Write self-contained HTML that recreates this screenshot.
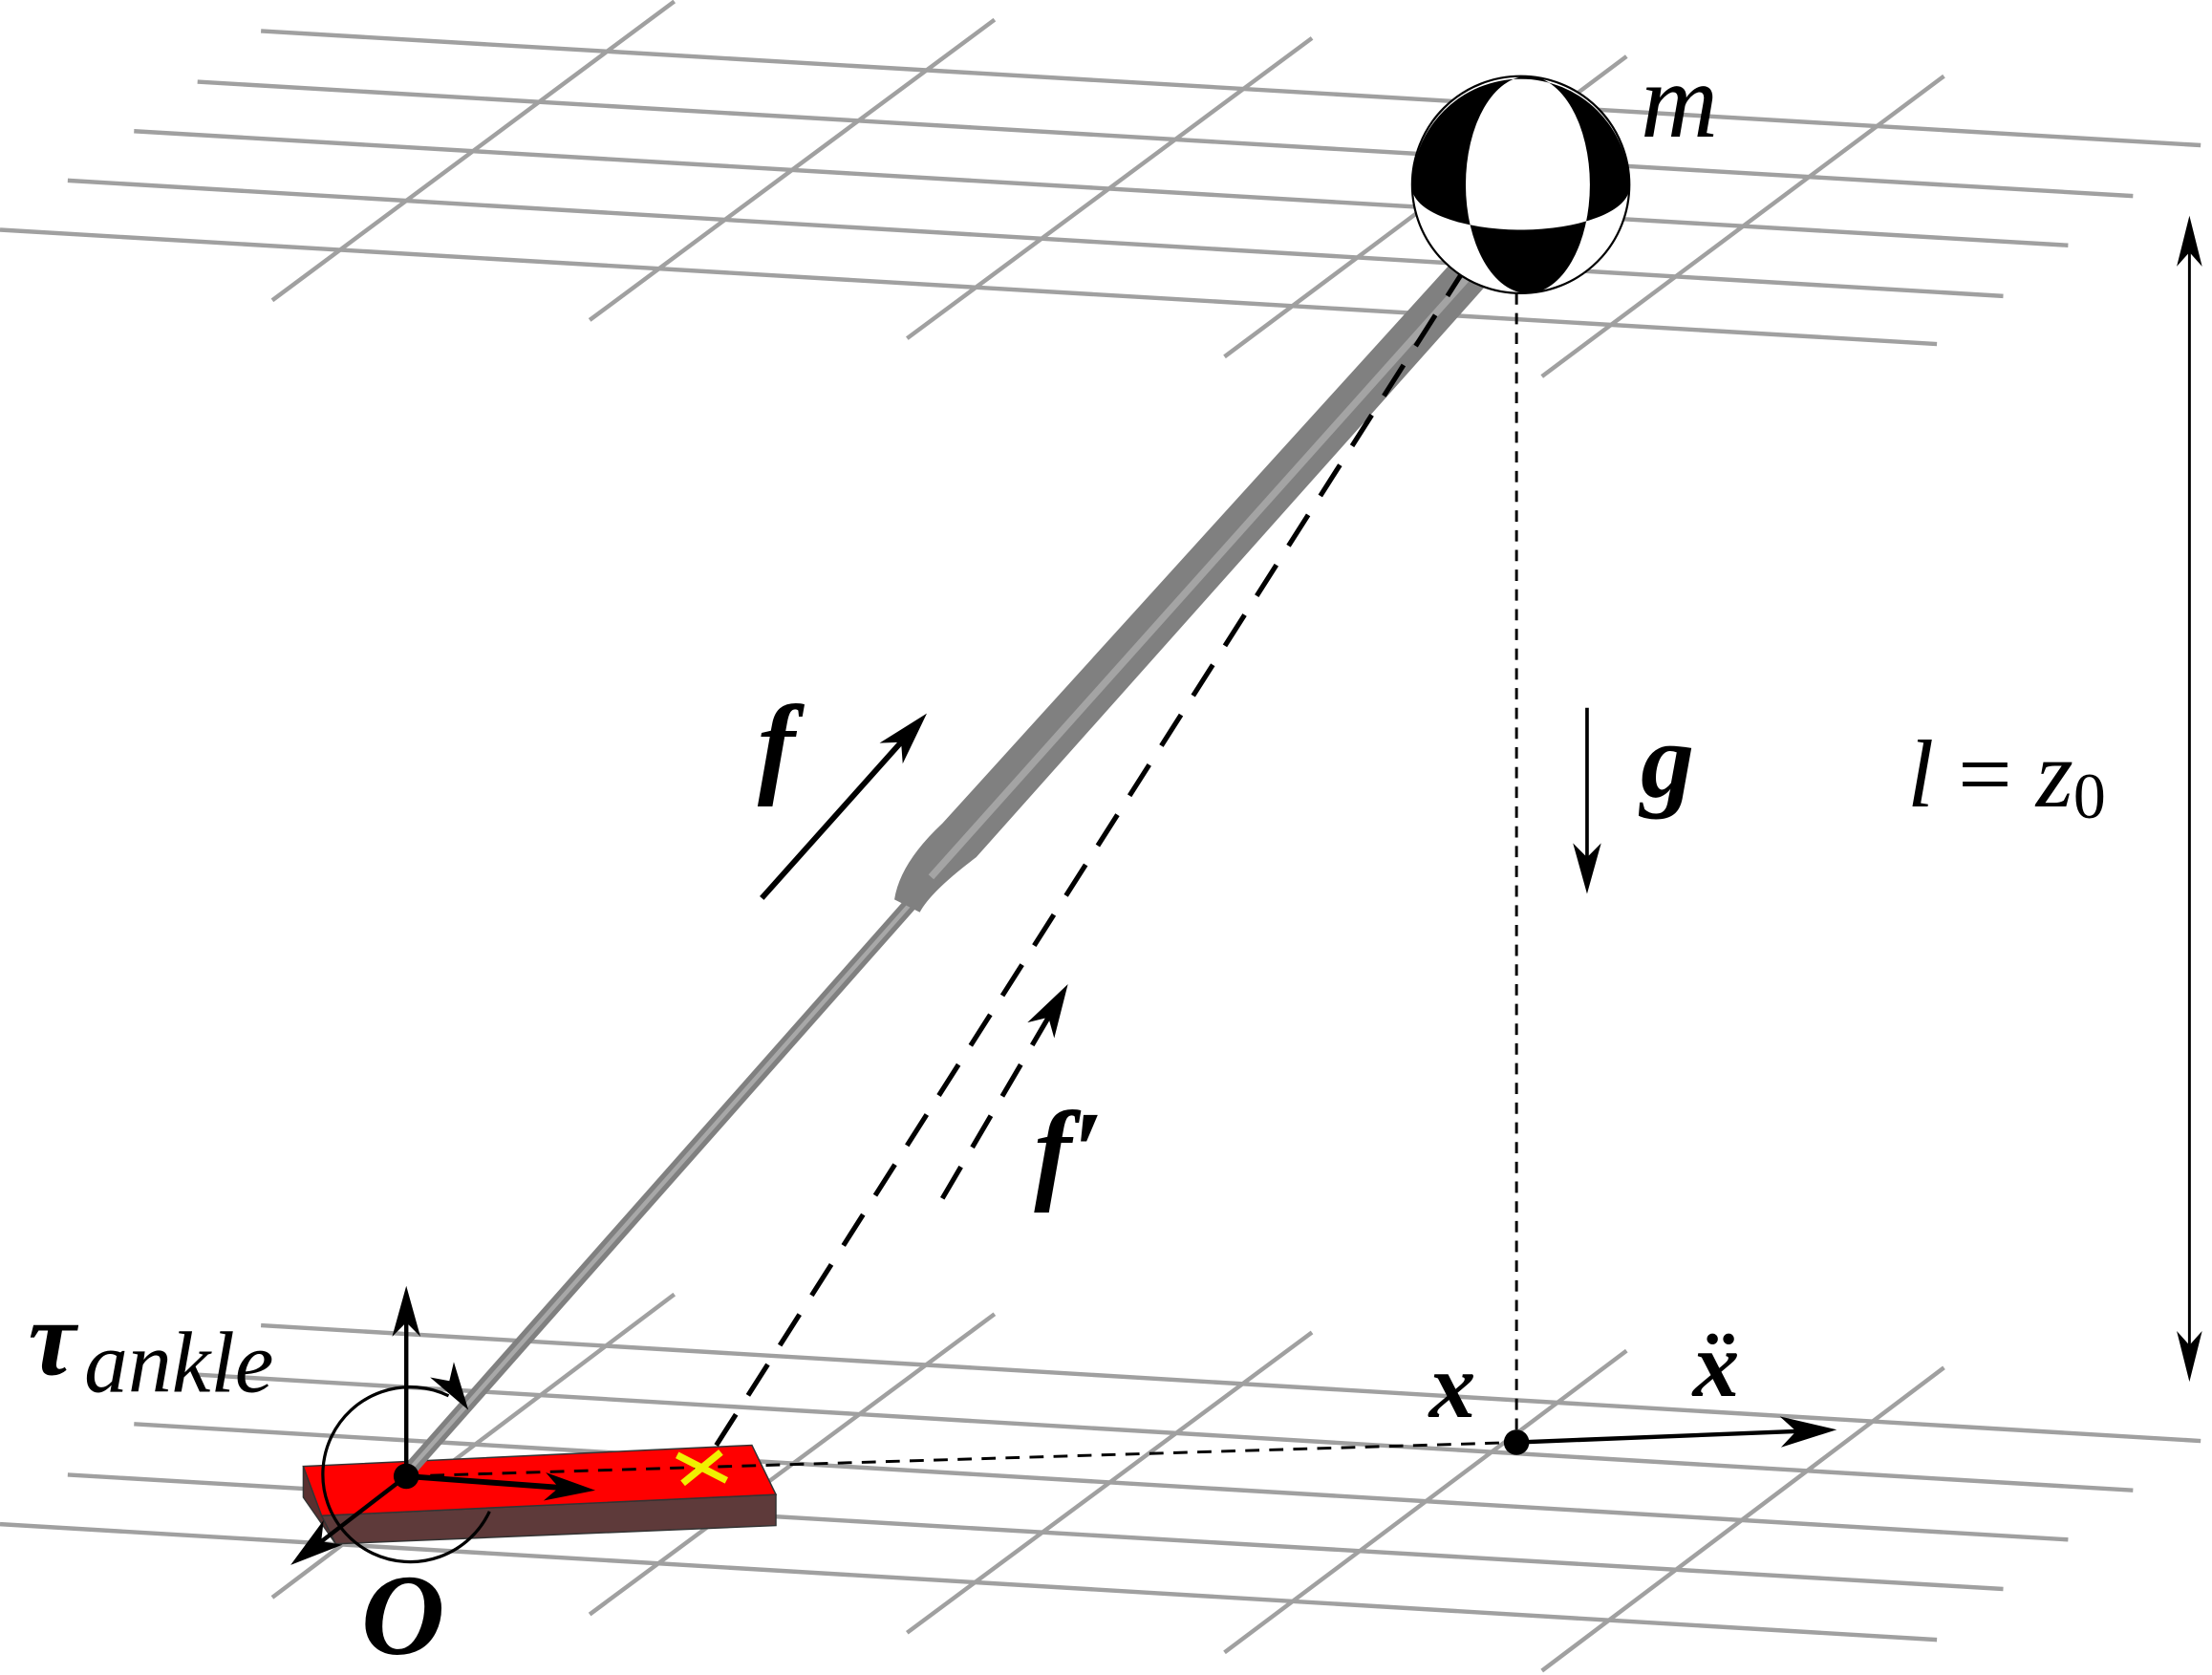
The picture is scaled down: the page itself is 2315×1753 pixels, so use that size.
<!DOCTYPE html>
<html><head><meta charset="utf-8"><style>
html,body{margin:0;padding:0;background:#fff;overflow:hidden}
svg{display:block}
text{font-family:"Liberation Serif","DejaVu Serif",serif;fill:#000}
</style></head><body>
<svg id="fig" width="2315" height="1753" viewBox="0 0 1568 1188" preserveAspectRatio="none">
<defs>
<clipPath id="circ"><circle cx="1078" cy="131" r="77"/></clipPath>
<clipPath id="upper"><path d="M1001,133 A77 77 0 0 1 1155,133 A77 30 0 0 1 1001,133 Z"/></clipPath>
</defs>

<g stroke="#a0a0a0" stroke-width="3">
<line x1="185" y1="22" x2="1560" y2="103"/>
<line x1="140" y1="58" x2="1512" y2="139"/>
<line x1="95" y1="93" x2="1466" y2="174"/>
<line x1="48" y1="128" x2="1420" y2="210"/>
<line x1="0" y1="163" x2="1373" y2="244"/>
<line x1="193" y1="213" x2="478" y2="1"/>
<line x1="418" y1="227" x2="705" y2="14"/>
<line x1="643" y1="240" x2="930" y2="27"/>
<line x1="868" y1="253" x2="1153" y2="40"/>
<line x1="1093" y1="267" x2="1378" y2="54"/>
</g>
<g stroke="#a0a0a0" stroke-width="3">
<line x1="185" y1="940" x2="1560" y2="1022"/>
<line x1="140" y1="975" x2="1512" y2="1057"/>
<line x1="95" y1="1010" x2="1466" y2="1092"/>
<line x1="48" y1="1046" x2="1420" y2="1127"/>
<line x1="0" y1="1081" x2="1373" y2="1163"/>
<line x1="193" y1="1133" x2="478" y2="918"/>
<line x1="418" y1="1145" x2="705" y2="932"/>
<line x1="643" y1="1158" x2="930" y2="945"/>
<line x1="868" y1="1172" x2="1153" y2="958"/>
<line x1="1093" y1="1185" x2="1378" y2="970"/>
</g>

<g>
<polygon points="215,1040 228,1075 238,1095 215,1062" fill="#5a3030" stroke="#333" stroke-width="1"/>
<polygon points="228,1075 550,1060 550,1082 238,1095" fill="#5e3a3a" stroke="#333" stroke-width="1"/>
<polygon points="215,1040 533,1025 550,1060 228,1075" fill="#ff0000" stroke="#333" stroke-width="1"/>
</g>

<g>
<line x1="288" y1="1045" x2="648" y2="638" stroke="#808080" stroke-width="10"/>
<line x1="288" y1="1045" x2="648" y2="638" stroke="#a8a8a8" stroke-width="3"/>
<path d="M634,638 Q638,612 668,584 L1030,185 L1052,204 L692,608 Q660,632 652,647 Z" fill="#808080"/>
<line x1="660" y1="622" x2="1042" y2="195" stroke="#a4a4a4" stroke-width="5"/>
</g>

<g stroke="#000" fill="none">
<line x1="1075" y1="208" x2="1075" y2="1023" stroke-width="2" stroke-dasharray="8,6"/>
<line x1="288" y1="1047" x2="1075" y2="1023" stroke-width="2" stroke-dasharray="10,7"/>
<line x1="1040" y1="188" x2="497" y2="1042" stroke-width="3.5" stroke-dasharray="26,16"/>
</g>

<g>
<circle cx="1078" cy="131" r="77" fill="#fff"/>
<ellipse cx="1083" cy="131" rx="44" ry="77" fill="#000" clip-path="url(#circ)"/>
<rect x="990" y="40" width="180" height="180" fill="#000" clip-path="url(#upper)"/>
<ellipse cx="1083" cy="131" rx="44" ry="77" fill="#fff" clip-path="url(#upper)"/>
<circle cx="1078" cy="131" r="77" fill="none" stroke="#000" stroke-width="1.5"/>
</g>

<g id="arrows">
<path d="M347,1072 A62 62 0 1 1 318,990" stroke="#000" stroke-width="2.2" fill="none"/>
</g>

<circle cx="288" cy="1047" r="9" fill="#000"/>
<circle cx="1075" cy="1023" r="9" fill="#000"/>
<g stroke="#f0f000" stroke-width="5">
<line x1="480" y1="1032" x2="515" y2="1050"/>
<line x1="484" y1="1052" x2="511" y2="1030"/>
</g>

<text x="1163" y="97" font-size="76" font-style="italic">m</text>
<text x="537" y="555" font-size="80" font-style="italic" font-weight="bold">f</text>
<text x="733" y="843" font-size="80" font-style="italic" font-weight="bold">f′</text>
<text x="1163" y="565" font-size="76" font-style="italic" font-weight="bold">g</text>
<text x="1352" y="572" font-size="68"><tspan font-style="italic">l</tspan> = <tspan font-style="italic">z</tspan><tspan font-size="46" dy="8">0</tspan></text>
<text x="1013" y="1005" font-size="66" font-style="italic" font-weight="bold">x</text>
<text x="1200" y="990" font-size="66" font-style="italic" font-weight="bold">ẍ</text>
<text x="256" y="1173" font-size="82" font-style="italic" font-weight="bold">O</text>
<text x="20" y="975" font-size="76" font-weight="bold" font-style="italic">τ<tspan font-weight="normal" font-size="62" dx="6" dy="12">ankle</tspan></text>
</svg>
<script>
var NS='http://www.w3.org/2000/svg';
var g=document.getElementById('arrows');
function arrow(name,x1,y1,x2,y2,w,L,H,dash,both){
  var l=document.createElementNS(NS,'line');
  
  
  var dx=x2-x1,dy=y2-y1,d=Math.hypot(dx,dy),ux=dx/d,uy=dy/d;
  var sx=both?x1+ux*L*0.5:x1, sy=both?y1+uy*L*0.5:y1;
  l.setAttribute('x1',sx);l.setAttribute('y1',sy);
  l.setAttribute('x2',x2-ux*L*0.5);l.setAttribute('y2',y2-uy*L*0.5);
  l.setAttribute('stroke','#000');l.setAttribute('stroke-width',w);
  if(dash)l.setAttribute('stroke-dasharray',dash);
  g.appendChild(l);
  head(name+'-head',x2,y2,ux,uy,L,H);
  if(both)head(name+'-tail',x1,y1,-ux,-uy,L,H);
}
function head(name,x,y,ux,uy,L,H){
  var px=-uy,py=ux;
  var p=document.createElementNS(NS,'polygon');
  
  
  var bx=x-ux*L,by=y-uy*L,ix=x-ux*L*0.72,iy=y-uy*L*0.72;
  p.setAttribute('points',[x,y,bx+px*H,by+py*H,ix,iy,bx-px*H,by-py*H].join(','));
  p.setAttribute('fill','#000');
  g.appendChild(p);
}
arrow('force-f-arrow',540,637,657,506,4,38,11);
arrow('force-f-prime-arrow',668,850,757,698,3.5,38,11,'26,16');
arrow('gravity-arrow',1125,502,1125,634,2.5,36,10);
arrow('height-arrow',1552,153,1552,980,2,36,9,null,true);
arrow('acceleration-arrow',1075,1023,1302,1014,3,40,11);
arrow('z-axis-arrow',288,1047,288,912,3,36,10);
arrow('x-axis-arrow',288,1047,422,1057,4,36,10);
arrow('y-axis-arrow',288,1047,206,1110,3,38,11);
head('ankle-torque-arc-head',332,1000,0.55,0.84,34,10);
</script>
</body></html>
